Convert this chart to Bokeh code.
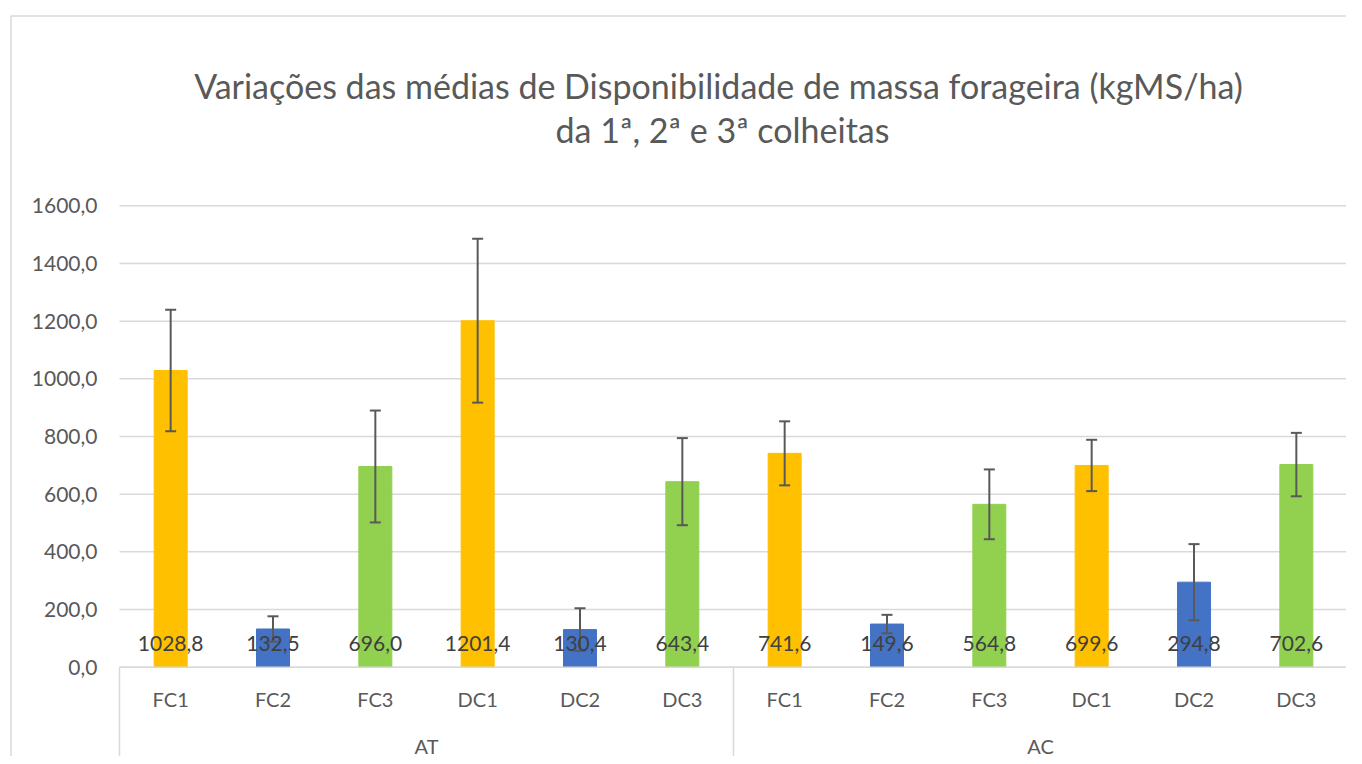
from bokeh.plotting import figure
from bokeh.models import Range1d, ColumnDataSource
from bokeh.core.properties import value
from bokeh.embed import file_html
from bokeh.resources import INLINE

# ---------------- data ----------------
groups = ["AT", "AC"]
categories = ["FC1", "FC2", "FC3", "DC1", "DC2", "DC3"]
at_values = [1028.8, 132.5, 696.0, 1201.4, 130.4, 643.4]
ac_values = [741.6, 149.6, 564.8, 699.6, 294.8, 702.6]
at_errors = [211, 44, 194, 284, 74, 151]
ac_errors = [111, 32, 121, 89, 132, 110]
y_ticks = [0, 200, 400, 600, 800, 1000, 1200, 1400, 1600]
title_lines = ["Variações das médias de Disponibilidade de massa forageira (kgMS/ha)",
               "da 1ª, 2ª e 3ª colheitas"]

# ---------------- layout (page pixels) ----------------
W, H = 1346, 756
PAGE0 = 0
PLOT_L, PLOT_R = 119.0, 1347.0
Y0_PX, Y1600_PX = 666.7, 205.3
n_cat = len(groups) * len(categories)
px_per_x = (PLOT_R - PLOT_L) / n_cat
px_per_y = (Y0_PX - Y1600_PX) / 1600.0

def px2x(px):
    return (px - PLOT_L) / px_per_x

def px2y(py):
    return (Y0_PX - py) / px_per_y

FONT = value("Lato")
GRAY_TXT = "#595959"
LABEL_TXT = "#404040"
LINE_GRAY = "#d9d9d9"
colors_cycle = ["#FFC000", "#4472C4", "#92D050"]

p = figure(width=W, height=H, output_backend="svg", toolbar_location=None,
           x_range=Range1d(px2x(PAGE0), px2x(PAGE0 + W)),
           y_range=Range1d(px2y(PAGE0 + H), px2y(PAGE0)),
           x_axis_location=None, y_axis_location=None,
           min_border=0, outline_line_color=None)
p.xgrid.visible = False
p.ygrid.visible = False
p.background_fill_color = "white"
p.border_fill_color = "white"

# chart border (left + top)
p.line(x=[px2x(10.5), px2x(10.5), px2x(1400)],
       y=[px2y(800), px2y(15.5), px2y(15.5)],
       line_color=LINE_GRAY, line_width=1.5)

# gridlines
p.segment(x0=[0] * len(y_ticks), x1=[n_cat] * len(y_ticks), y0=y_ticks, y1=y_ticks,
          line_color=LINE_GRAY, line_width=1.5)

# y tick labels
p.text(x=[px2x(97)] * len(y_ticks), y=y_ticks,
       text=[f"{t:.1f}".replace(".", ",") for t in y_ticks],
       text_align="right", text_baseline="middle", text_font=FONT,
       text_font_size=value("21px"), text_color=GRAY_TXT)

# bars
xs, vals, errs, cols, cats = [], [], [], [], []
for gi, (gvals, gerrs) in enumerate([(at_values, at_errors), (ac_values, ac_errors)]):
    for ci, c in enumerate(categories):
        xs.append(gi * len(categories) + ci + 0.5)
        vals.append(gvals[ci])
        errs.append(gerrs[ci])
        cols.append(colors_cycle[ci % 3])
        cats.append(c)

src = ColumnDataSource(dict(x=xs, top=vals, color=cols,
                            lo=[v - e for v, e in zip(vals, errs)],
                            hi=[v + e for v, e in zip(vals, errs)],
                            label=[f"{v:.1f}".replace(".", ",") for v in vals],
                            cat=cats))
p.vbar(x="x", top="top", bottom=0, width=33 / px_per_x, color="color", source=src)

# error bars
cap = 5.5 / px_per_x
p.segment(x0="x", x1="x", y0="lo", y1="hi", line_color="#595959", line_width=2, source=src)
p.segment(x0=[x - cap for x in xs], x1=[x + cap for x in xs], y0=src.data["hi"], y1=src.data["hi"],
          line_color="#595959", line_width=2)
p.segment(x0=[x - cap for x in xs], x1=[x + cap for x in xs], y0=src.data["lo"], y1=src.data["lo"],
          line_color="#595959", line_width=2)

# data labels
p.text(x="x", y=px2y(643), text="label", text_align="center", text_baseline="middle",
       text_font=FONT, text_font_size=value("21px"), text_color=LABEL_TXT, source=src)

# category axis: baseline and separators
p.segment(x0=[0], x1=[n_cat], y0=[0], y1=[0], line_color=LINE_GRAY, line_width=1.5)
sep_x = [gi * len(categories) for gi in range(len(groups) + 1)]
p.segment(x0=sep_x, x1=sep_x, y0=[0] * len(sep_x), y1=[px2y(760)] * len(sep_x),
          line_color=LINE_GRAY, line_width=1.5)

p.text(x="x", y=px2y(698), text="cat", text_align="center", text_baseline="middle",
       text_font=FONT, text_font_size=value("20px"), text_color=GRAY_TXT, source=src)
p.text(x=[gi * len(categories) + len(categories) / 2 for gi in range(len(groups))],
       y=[px2y(745)] * len(groups), text=groups, text_align="center", text_baseline="middle",
       text_font=FONT, text_font_size=value("20px"), text_color=GRAY_TXT)

# title
p.text(x=[px2x(718), px2x(722)], y=[px2y(85), px2y(129)], text=title_lines,
       text_align="center", text_baseline="alphabetic", text_font=FONT,
       text_font_size=value("34px"), text_color=GRAY_TXT)

open("out.html", "w").write(file_html(p, INLINE))
